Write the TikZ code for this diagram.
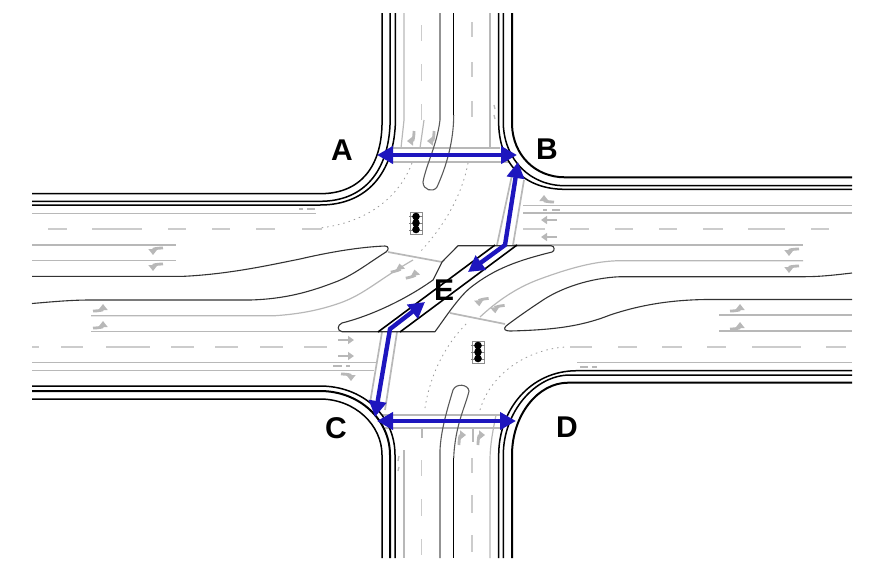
\documentclass[tikz,border=0pt]{standalone}
\usepackage{fontspec}
\setmainfont{Liberation Sans}
\usetikzlibrary{arrows.meta}
\definecolor{lanegray}{gray}{0.72}
\definecolor{dashgray}{gray}{0.80}
\definecolor{marrow}{gray}{0.72}
\definecolor{routeblue}{RGB}{30,22,190}
\tikzset{
  x=1pt,y=-1pt,
  curbline/.style={black,line width=1.5pt},
  curbthick/.style={black,line width=2pt},
  islandline/.style={black!80,line width=1.1pt,line join=round},
  laneline/.style={lanegray,line width=1.2pt},
  crossline/.style={lanegray,line width=1.7pt},
  dashmark/.style={dashgray,line width=1.3pt},
  dotline/.style={black!40,line width=0.8pt,dash pattern=on 1.5pt off 4pt},
  bluearrow/.style={routeblue,line width=4.4pt,line join=miter,{Triangle[length=16pt,width=17pt]}-{Triangle[length=16pt,width=17pt]}},
  turnmark/.style={marrow,line width=2.8pt,-{Triangle[length=6pt,width=9pt]}},
  straightmark/.style={marrow,line width=2.4pt,-{Triangle[length=6pt,width=8pt]}},
  tinymark/.style={marrow,line width=1.3pt},
  sitelabel/.style={font=\fontsize{30}{30}\selectfont\bfseries,text=black,inner sep=0pt},
  signalbox/.style={draw=black!45,fill=white,line width=0.8pt},
}
\newcommand{\turnmk}[4]{\draw[turnmark,shift={(#1,#2)},rotate=#3,xscale=#4] (-4,7) .. controls (-4,1) and (-3,-3) .. (3,-3);}
\newcommand{\signalhead}[2]{%
  \draw[signalbox,shift={(#1,#2)}] (-6,-11) rectangle (6,11);
  \draw[black!50,line width=0.8pt,shift={(#1,#2)}] (-7,-7)--(7,-7) (-7,0)--(7,0) (-7,7)--(7,7);
  \fill[black,shift={(#1,#2)}] (0,-6.5) circle (3.8) (0,0) circle (3.8) (0,6.5) circle (3.8);}
\begin{document}
\begin{tikzpicture}
\useasboundingbox (0,0) rectangle (882,574);
% ---- lane lines
\draw[laneline] (32,213.3)--(316,213.3);
\draw[laneline] (32,245)--(176,245) (32,260.3)--(176,260.3);
\draw[laneline] (91,315.7)--(275,315.7) .. controls (300,314) and (320,310) .. (340,303) .. controls (365,294) and (378,280) .. (413,260);
\draw[laneline] (91,331.5)--(378,331.5);
\draw[laneline] (32,362.3)--(376,362.3) (32,370.7)--(374,370.7);
\draw[laneline] (523,205.3)--(852,205.3) (523,213)--(852,213);
\draw[laneline] (513,245)--(803,245);
\draw[laneline] (803,260.7)--(620,260.7) .. controls (595,261) and (570,268) .. (540,279) .. controls (515,288) and (495,303) .. (480,317);
\draw[laneline] (719,315)--(852,315) (719,331)--(852,331);
\draw[laneline] (577,362.3)--(852,362.3);
\draw[laneline] (404,13)--(404,120)--(401,148);
\draw[laneline] (490,13)--(490,148);
\draw[laneline] (424,120)--(420,148);
\draw[laneline] (404,450)--(404,558);
\draw[laneline] (490,558)--(490,460) .. controls (490,445) and (493,430) .. (496,415);
\draw[laneline] (473,428)--(473,442) (422,428)--(422,438);
% ---- stop bars and crosswalk edges
\draw[crossline] (388,252)--(442,262) (450,313)--(505,324);
\draw[crossline] (392,148)--(500,148) (392,162)--(510,162);
\draw[crossline] (382,415)--(500,415) (385,428)--(500,428);
\draw[crossline] (512,175)--(497,245) (524,180)--(513,245);
\draw[crossline] (382,332)--(370,403) (397,332)--(385,410);
% ---- centre dashes
\foreach \a/\b in {48/67,92/142,168/186,212/230,256/275,302/322,570/589,615/633,659/677,703/723,748/785,811/829,523/545}
  \draw[dashmark] (\a,229)--(\b,229);
\foreach \a/\b in {32/39,61/83,106/150,171/194,215/238,260/283,304/327,570/592,618/637,662/682,707/726,752/801,826/846}
  \draw[dashmark] (\a,347)--(\b,347);
\foreach \a/\b in {25/41,64/81,104/120,460/476,499/516,539/555}
  \draw[dashmark] (421.7,\a)--(421.7,\b);
\foreach \a/\b in {22/37,62/77,101/117,458/473,495/513,535/552}
  \draw[dashmark] (472,\a)--(472,\b);
% ---- dotted turning paths
\draw[dotline] (412,163) .. controls (400,195) and (370,222) .. (320,228);
\draw[dotline] (468,163) .. controls (462,195) and (445,225) .. (420,252);
\draw[dotline] (425,408) .. controls (430,375) and (445,345) .. (467,323);
\draw[dotline] (480,410) .. controls (490,375) and (525,350) .. (565,347);
% ---- islands
\draw[islandline] (32,276.3)--(184,276.3) .. controls (230,274) and (270,265) .. (300,259) .. controls (330,252) and (360,247) .. (385,246) .. controls (389,246) and (389,250) .. (386,252) .. controls (370,262) and (355,274) .. (338,281) .. controls (310,292) and (285,299) .. (250,300)--(90,300) .. controls (70,300) and (50,302) .. (32,303.5);
\draw[islandline] (852,273) .. controls (835,275) and (820,276.7) .. (805,276.7)--(620,276.7) .. controls (590,278) and (560,288) .. (540,302) .. controls (528,310) and (515,319) .. (506,326) .. controls (503,329) and (505,331) .. (510,331) .. controls (550,330) and (580,327) .. (610,315) .. controls (640,305) and (670,300) .. (706,299.5)--(852,299.5);
\draw[islandline] (442,262)--(458,245.7)--(551,245.7) .. controls (555,246) and (555,251) .. (552,252) .. controls (520,260) and (495,268) .. (470,288) .. controls (458,298) and (445,318) .. (435,331.7)--(342,331.7) .. controls (337,331) and (337,325) .. (342,323) .. controls (370,316) and (405,300) .. (433,280)--(442,262);
% ---- crosswalk across the median
\draw[black,line width=1.6pt] (378,332)--(495,245) (400,332)--(517,245);
% ---- road edges north
\draw[curbline] (382,13)--(382,125) .. controls (381,165) and (362,193.7) .. (320,193.7)--(32,193.7);
\draw[curbline] (390,13)--(390,125) .. controls (388,170) and (365,201.3) .. (320,201.3)--(32,201.3);
\draw[curbline] (395.3,13)--(395.3,125) .. controls (393,172) and (368,205) .. (320,205)--(32,205);
\draw[curbline] (498.7,13)--(498.7,125) .. controls (500,165) and (525,189.3) .. (565,189.3)--(852,189.3);
\draw[curbline] (503.3,13)--(503.3,125) .. controls (505,160) and (530,185.7) .. (565,185.7)--(852,185.7);
\draw[curbthick] (512,13)--(512,125) .. controls (513,155) and (535,177.3) .. (565,177.3)--(852,177.3);
% ---- road edges south
\draw[curbline] (32,386)--(320,386) .. controls (362,386) and (395,415) .. (395,455)--(395,558);
\draw[curbthick] (32,391)--(320,391) .. controls (360,391) and (390,420) .. (390,455)--(390,558);
\draw[curbline] (32,399)--(320,399) .. controls (355,399) and (382,425) .. (382,455)--(382,558);
\draw[curbline] (852,370.7)--(577,370.7) .. controls (530,370.7) and (498.7,410) .. (498.7,455)--(498.7,558);
\draw[curbline] (852,375)--(570,375) .. controls (535,375) and (503.3,412) .. (503.3,455)--(503.3,558);
\draw[curbthick] (852,382.7)--(568,382.7) .. controls (538,382.7) and (512,415) .. (512,455)--(512,558);
% ---- median noses
\draw[islandline,black!65] (440,13)--(440,120) .. controls (437,145) and (426,165) .. (423,182) .. controls (423,190) and (433,193) .. (437,187) .. controls (447,165) and (453.7,140) .. (453.7,115);
\draw[curbline] (453.7,13)--(453.7,115);
\draw[islandline,black!65] (440,558)--(440,450) .. controls (441,430) and (447,410) .. (453,390) .. controls (456,383) and (468,384) .. (469,391) .. controls (466,405) and (455,425) .. (453.7,458);
\draw[curbline] (453.7,458)--(453.7,558);
% ---- pavement arrows
\turnmk{410}{138}{180}{1}\turnmk{430}{138}{180}{1}
\turnmk{463}{438}{0}{1}\turnmk{482}{438}{0}{1}
\turnmk{156}{252}{90}{-1}\turnmk{156}{268}{90}{-1}
\turnmk{792}{253}{90}{-1}\turnmk{792}{270}{90}{-1}
\turnmk{100}{307}{-90}{-1}\turnmk{100}{324}{-90}{-1}
\turnmk{737}{307}{-90}{-1}\turnmk{737}{325}{-90}{-1}
\turnmk{397}{267}{-80}{-1}\turnmk{412}{273}{-80}{-1}
\turnmk{482}{303}{95}{-1}\turnmk{498}{310}{95}{-1}
\turnmk{547}{198}{90}{1}
\turnmk{348}{378}{-90}{1}
\draw[straightmark] (338,340)--(354,340);
\draw[straightmark] (338,356)--(354,356);
\draw[straightmark] (557,220)--(541,220);
\draw[straightmark] (557,237)--(541,237);
\draw[tinymark] (299,209)--(303,209) (307,209)--(315,209);
\draw[tinymark] (333,366)--(342,366) (346,366)--(350,366);
\draw[tinymark] (543,210)--(547,210) (552,210)--(560,210);
\draw[tinymark] (580,367)--(588,367) (592,367)--(597,367);
\draw[tinymark] (494,105)--(495,109) (494,115)--(495,119);
\draw[tinymark] (399,456)--(398,461) (399,467)--(398,471);
% ---- signals
\signalhead{416}{223}
\signalhead{478}{352}
% ---- labels
\node[sitelabel] (A) at (342,150) {A};
\node[sitelabel] (B) at (547,149) {B};
\node[sitelabel] (C) at (336,428) {C};
\node[sitelabel] (D) at (567,427) {D};
\node[sitelabel] (E) at (444,290) {E};
% ---- routes
\coordinate (pa) at (377,155);
\coordinate (pb) at (517,155);
\coordinate (pb2) at (518,162);
\coordinate (kb) at (505,245);
\coordinate (pe1) at (468,272);
\coordinate (pe2) at (425,302);
\coordinate (kc) at (390,329);
\coordinate (pc) at (375,417);
\coordinate (pc2) at (377,421);
\coordinate (pd) at (516,421);
\draw[bluearrow] (pa)--(pb);
\draw[bluearrow] (pb2)--(kb)--(pe1);
\draw[bluearrow] (pe2)--(kc)--(pc);
\draw[bluearrow] (pc2)--(pd);
\end{tikzpicture}
\end{document}
